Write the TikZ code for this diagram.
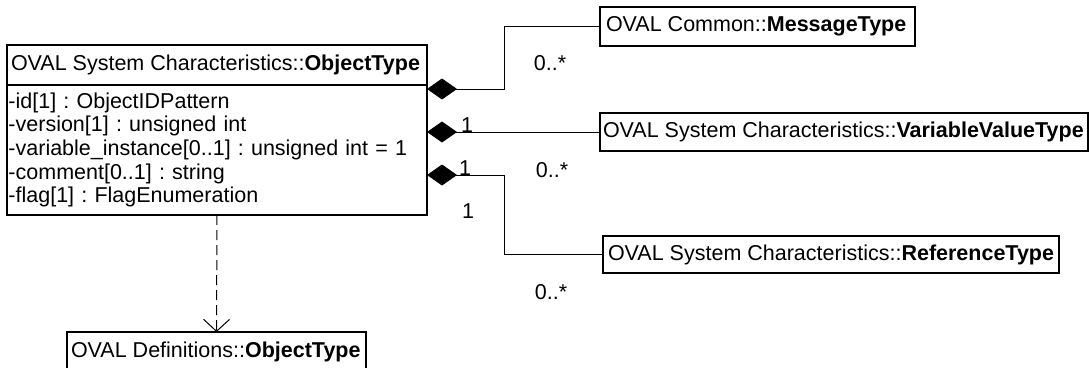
\documentclass[tikz,border=0pt]{standalone}
\usepackage{fontspec}
\setmainfont{Liberation Sans}
\usetikzlibrary{arrows.meta}
\frenchspacing
\newcommand\clsline[2]{\makebox[#1][l]{#2}}
\begin{document}
\begin{tikzpicture}[x=1pt,y=-1pt,
  every node/.style={font=\fontsize{21.5}{23.7}\selectfont},
  cls/.style={draw, line width=1.6pt, inner ysep=0pt, outer sep=0pt, anchor=north west},
  conn/.style={line width=1pt},
  comp/.style={conn, {Diamond[length=30pt,width=21pt]}-},
  dep/.style={conn, dash pattern=on 10pt off 5pt, -{Straight Barb[length=12pt,width=26pt]}},
  lbl/.style={inner sep=0pt}]
\useasboundingbox (0,0) rectangle (1089,367);

% main class
\node[cls, inner xsep=4pt, minimum height=40pt] (hdr) at (7,45)
  {\clsline{412pt}{OVAL System Characteristics::\textbf{ObjectType}}};
\node[cls, inner xsep=1.5pt, text width=417pt, align=left, minimum height=130pt] (attrs) at (7,85)
  {-id[1] : ObjectIDPattern\\
   -version[1] : unsigned int\\
   -variable\_instance[0..1] : unsigned int = 1\\
   -comment[0..1] : string\\
   -flag[1] : FlagEnumeration};

% other classes
\node[cls, inner xsep=6pt, minimum height=39pt] (msg) at (600,7)
  {\clsline{303pt}{OVAL Common::\textbf{MessageType}}};
\node[cls, inner xsep=3pt, minimum height=38pt] (vvt) at (600,113)
  {\clsline{482pt}{OVAL System Characteristics::\textbf{VariableValueType}}};
\node[cls, inner xsep=5pt, minimum height=37pt] (ref) at (603,236)
  {\clsline{446pt}{OVAL System Characteristics::\textbf{ReferenceType}}};
\node[cls, inner xsep=4pt, minimum height=39pt] (defs) at (67,332)
  {\clsline{291pt}{OVAL Definitions::\textbf{ObjectType}}};

% connectors
\draw[comp] ([yshift=-4pt]attrs.north east) -- ++(77,0) |- (msg.west);
\draw[comp] (attrs.east |- vvt.west) -- (vvt.west);
\draw[comp] ([yshift=-90pt]attrs.north east) -- ++(77,0) |- (ref.west);
\draw[dep] (attrs.south) -- (defs.north);

% multiplicities
\node[lbl] (m1) at (550,63) {0..*};
\node[lbl] (v1) at (467,125) {1};
\node[lbl] (v2) at (552,170) {0..*};
\node[lbl] (r1) at (465,168) {1};
\node[lbl] (r1b) at (468,211) {1};
\node[lbl] (r2) at (551,292) {0..*};
\end{tikzpicture}
\end{document}
